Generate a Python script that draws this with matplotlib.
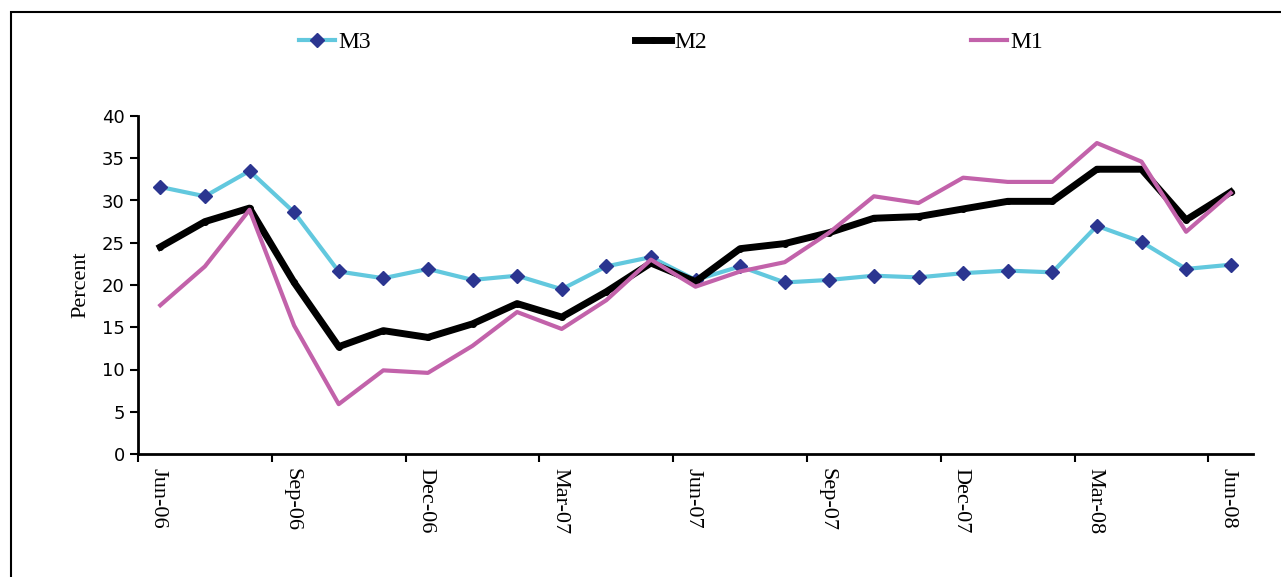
import numpy as np
import matplotlib
matplotlib.use("Agg")
import matplotlib.pyplot as plt
from matplotlib.patches import Rectangle

# monthly growth rates, Jun-06 .. Jun-08
months = np.arange(25) + 0.5
m3 = [31.6, 30.5, 33.5, 28.6, 21.6, 20.8, 21.9, 20.6, 21.1, 19.5, 22.2, 23.3, 20.6,
      22.2, 20.3, 20.6, 21.1, 20.9, 21.4, 21.7, 21.5, 27.0, 25.1, 21.9, 22.4]
m2 = [24.5, 27.5, 29.1, 20.3, 12.7, 14.6, 13.8, 15.4, 17.8, 16.2, 19.2, 22.6, 20.4,
      24.3, 24.9, 26.2, 27.9, 28.1, 29.0, 29.9, 29.9, 33.7, 33.7, 27.7, 31.0]
m1 = [17.6, 22.2, 28.9, 15.2, 5.9, 9.9, 9.6, 12.8, 16.8, 14.8, 18.2, 23.0, 19.8,
      21.6, 22.7, 26.2, 30.5, 29.7, 32.7, 32.2, 32.2, 36.8, 34.6, 26.3, 30.9]
tick_pos = np.arange(0, 25, 3)
tick_labels = ["Jun-06", "Sep-06", "Dec-06", "Mar-07", "Jun-07",
               "Sep-07", "Dec-07", "Mar-08", "Jun-08"]

fig = plt.figure(figsize=(12.81, 5.77), dpi=100)
ax = fig.add_axes([138 / 1281, 1 - 454 / 577, (1253 - 138) / 1281, (454 - 116) / 577])

# outer frame (only left and top edges visible in the original)
fig.patches.append(Rectangle((11 / 1281, -0.1), 1.2, 1 - 12 / 577 + 0.1,
                             transform=fig.transFigure, fill=False,
                             edgecolor="black", linewidth=1.5))

ax.plot(months, m3, color="#62C8DE", linewidth=3, marker="D", markersize=7,
        markerfacecolor="#2B3590", markeredgecolor="#2B3590", label="M3")
ax.plot(months, m2, color="black", linewidth=5, marker="o", markersize=4,
        label="M2")
ax.plot(months, m1, color="#C262AA", linewidth=3, label="M1")

ax.set_xlim(0, 25)
ax.set_ylim(0, 40)
ax.set_yticks(range(0, 41, 5))
# tick marks at quarter starts, labels sit a little to the right
ax.set_xticks(tick_pos)
ax.set_xticklabels([])
ax.set_xticks(tick_pos + 0.45, minor=True)
ax.set_xticklabels(tick_labels, minor=True, rotation=-90,
                   family="Liberation Serif", fontsize=16)
ax.tick_params(axis="x", which="minor", length=0, pad=10)
for lab in ax.get_yticklabels():
    lab.set_fontsize(13)
    lab.set_family("DejaVu Sans")
ax.tick_params(which="major", direction="out", length=6, width=1.5, colors="black")
for side in ["top", "right"]:
    ax.spines[side].set_visible(False)
for side in ["left", "bottom"]:
    ax.spines[side].set_linewidth(2)
ax.set_ylabel("Percent", family="Liberation Serif", fontsize=16, labelpad=8)

ax.legend(loc="center", bbox_to_anchor=(0.478, 1 + (116 - 42) / 338), ncol=3,
          frameon=False, prop={"family": "Liberation Serif", "size": 17},
          handlelength=1.5, handletextpad=0.15, columnspacing=11.2)

fig.savefig("out.png", dpi=100)
